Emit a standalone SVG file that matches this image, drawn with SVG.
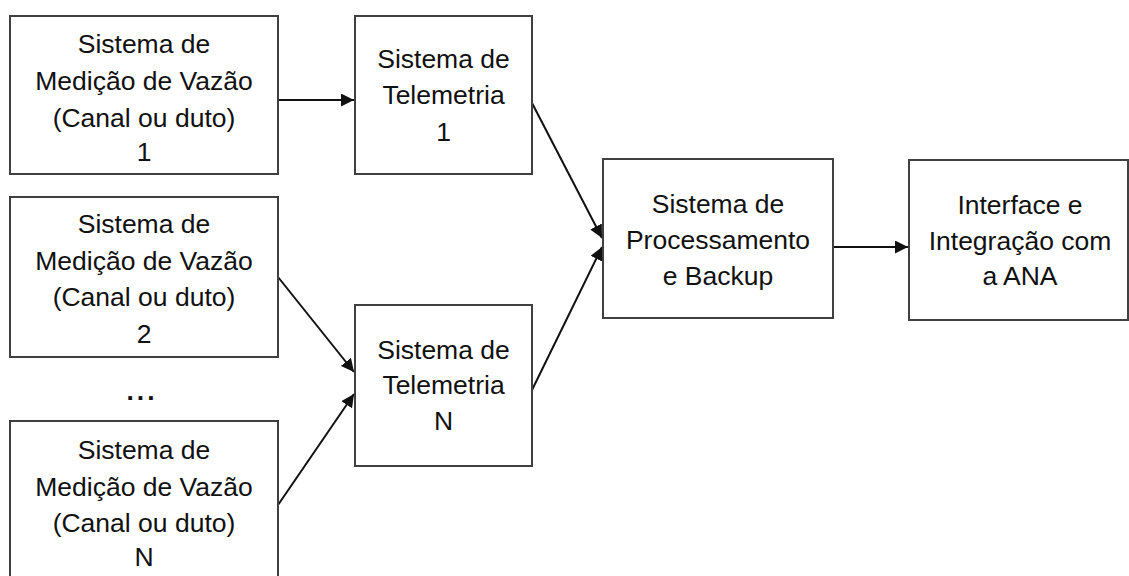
<svg xmlns="http://www.w3.org/2000/svg" width="1129" height="576" viewBox="0 0 1129 576">
<defs>
<style>
.box{fill:#fff;stroke:#404040;stroke-width:2}
.t{font-family:"Liberation Sans",Arial,sans-serif;font-size:26.5px;fill:#111;text-anchor:middle}
.c{stroke:#111;stroke-width:2;fill:none;marker-end:url(#ah)}
</style>
<marker id="ah" viewBox="0 0 10 10" refX="10" refY="5" markerWidth="6.5" markerHeight="6.5" markerUnits="strokeWidth" orient="auto">
<path d="M0,0 L10,5 L0,10 z" fill="#111"/>
</marker>
</defs>
<rect width="1129" height="576" fill="#fff"/>
<g id="connectors">
<line class="c" x1="278" y1="100" x2="354" y2="100"/>
<line class="c" x1="532" y1="103" x2="602" y2="238"/>
<line class="c" x1="532" y1="390" x2="602" y2="247"/>
<line class="c" x1="833" y1="247" x2="908" y2="247"/>
<line class="c" x1="278" y1="277" x2="354" y2="372"/>
<line class="c" x1="278" y1="505" x2="354" y2="394"/>
</g>
<g id="m1">
<rect class="box" x="10" y="16" width="268" height="158"/>
<text class="t" x="144" y="53">Sistema de</text>
<text class="t" x="144" y="90">Medição de Vazão</text>
<text class="t" x="144" y="127">(Canal ou duto)</text>
<text class="t" x="144" y="161">1</text>
</g>
<g id="m2">
<rect class="box" x="10" y="197" width="268" height="160"/>
<text class="t" x="144" y="233">Sistema de</text>
<text class="t" x="144" y="270">Medição de Vazão</text>
<text class="t" x="144" y="306">(Canal ou duto)</text>
<text class="t" x="144" y="343">2</text>
</g>
<g id="dots">
<text class="t" x="142" y="400" style="font-weight:bold;letter-spacing:3px">...</text>
</g>
<g id="m3">
<rect class="box" x="10" y="421" width="268" height="170"/>
<text class="t" x="144" y="459">Sistema de</text>
<text class="t" x="144" y="496">Medição de Vazão</text>
<text class="t" x="144" y="532">(Canal ou duto)</text>
<text class="t" x="144" y="566">N</text>
</g>
<g id="t1">
<rect class="box" x="355" y="16" width="177" height="158"/>
<text class="t" x="443.5" y="68">Sistema de</text>
<text class="t" x="443.5" y="104">Telemetria</text>
<text class="t" x="443.5" y="141">1</text>
</g>
<g id="tn">
<rect class="box" x="355" y="305" width="177" height="161"/>
<text class="t" x="443.5" y="359">Sistema de</text>
<text class="t" x="443.5" y="394">Telemetria</text>
<text class="t" x="443.5" y="430">N</text>
</g>
<g id="proc">
<rect class="box" x="603" y="159" width="230" height="159"/>
<text class="t" x="718" y="213">Sistema de</text>
<text class="t" x="718" y="249">Processamento</text>
<text class="t" x="718" y="285">e Backup</text>
</g>
<g id="ana">
<rect class="box" x="909" y="160" width="219" height="160"/>
<text class="t" x="1020" y="214">Interface e</text>
<text class="t" x="1020" y="250">Integração com</text>
<text class="t" x="1020" y="285">a ANA</text>
</g>
</svg>
